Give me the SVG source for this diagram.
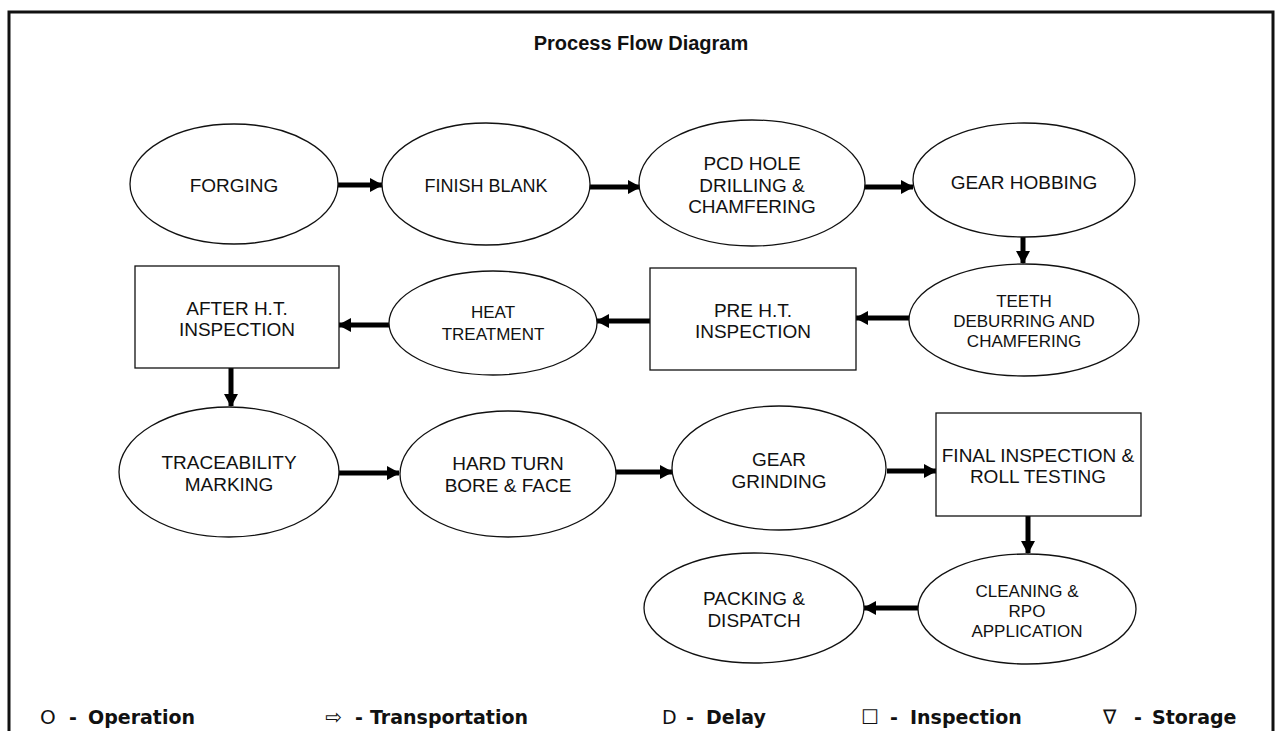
<svg xmlns="http://www.w3.org/2000/svg" width="1281" height="731" viewBox="0 0 1281 731">
<style>
.n{fill:#fff;stroke:#111;stroke-width:1.3}
.t{font-family:"Liberation Sans",Arial,sans-serif;font-size:19px;fill:#111;text-anchor:middle}
.s{font-size:17px}
.m{font-size:18px}
.ttl{font-family:"Liberation Sans",Arial,sans-serif;font-size:20px;font-weight:bold;fill:#111;text-anchor:middle}
.c{stroke:#000;stroke-width:5;fill:none;marker-end:url(#ah)}
.lg{font-family:"DejaVu Sans",sans-serif;font-size:19px;font-weight:bold;fill:#111}
.sy{font-family:"DejaVu Sans",sans-serif;font-size:20px;fill:#111}
</style>
<defs>
<marker id="ah" markerUnits="userSpaceOnUse" markerWidth="14" markerHeight="14" refX="12" refY="7" orient="auto">
<path d="M0,0 L13,7 L0,14 Z" fill="#000"/>
</marker>
</defs>
<rect width="1281" height="731" fill="#fff"/>
<path d="M9,731 V12 H1273 V731" fill="none" stroke="#111" stroke-width="3"/>
<text class="ttl" x="641" y="50">Process Flow Diagram</text>

<g id="connectors">
<line class="c" x1="338" y1="185" x2="382" y2="185"/>
<line class="c" x1="590" y1="187" x2="640" y2="187"/>
<line class="c" x1="865" y1="187" x2="913" y2="187"/>
<line class="c" x1="1023" y1="237" x2="1023" y2="263"/>
<line class="c" x1="909" y1="318" x2="856" y2="318"/>
<line class="c" x1="650" y1="321" x2="597" y2="321"/>
<line class="c" x1="389" y1="325" x2="339" y2="325"/>
<line class="c" x1="231" y1="368" x2="231" y2="406"/>
<line class="c" x1="339" y1="473" x2="399" y2="473"/>
<line class="c" x1="616" y1="472" x2="672" y2="472"/>
<line class="c" x1="887" y1="471" x2="936" y2="471"/>
<line class="c" x1="1028" y1="516" x2="1028" y2="553"/>
<line class="c" x1="918" y1="608" x2="864" y2="608"/>
</g>

<g id="forging"><ellipse class="n" cx="234" cy="184" rx="104" ry="60"/><text class="t" x="234" y="192">FORGING</text></g>
<g id="finish-blank"><ellipse class="n" cx="486" cy="184" rx="104" ry="61"/><text class="t m" x="486" y="192">FINISH BLANK</text></g>
<g id="pcd-hole"><ellipse class="n" cx="752" cy="183" rx="113" ry="63"/><text class="t" x="752" y="170">PCD HOLE</text><text class="t" x="752" y="192">DRILLING &amp;</text><text class="t" x="752" y="213">CHAMFERING</text></g>
<g id="gear-hobbing"><ellipse class="n" cx="1024" cy="180" rx="111" ry="57"/><text class="t" x="1024" y="189">GEAR HOBBING</text></g>
<g id="teeth"><ellipse class="n" cx="1024" cy="320" rx="115" ry="56"/><text class="t s" x="1024" y="307">TEETH</text><text class="t s" x="1024" y="327">DEBURRING AND</text><text class="t s" x="1024" y="347">CHAMFERING</text></g>
<g id="pre-ht"><rect class="n" x="650" y="268" width="206" height="102"/><text class="t" x="753" y="317">PRE H.T.</text><text class="t" x="753" y="338">INSPECTION</text></g>
<g id="heat-treatment"><ellipse class="n" cx="493" cy="323" rx="104" ry="52"/><text class="t s" x="493" y="318">HEAT</text><text class="t s" x="493" y="340">TREATMENT</text></g>
<g id="after-ht"><rect class="n" x="135" y="266" width="204" height="102"/><text class="t" x="237" y="315">AFTER H.T.</text><text class="t" x="237" y="336">INSPECTION</text></g>
<g id="traceability"><ellipse class="n" cx="229" cy="472" rx="110" ry="65"/><text class="t" x="229" y="469">TRACEABILITY</text><text class="t" x="229" y="491">MARKING</text></g>
<g id="hard-turn"><ellipse class="n" cx="508" cy="474" rx="108" ry="63"/><text class="t" x="508" y="470">HARD TURN</text><text class="t" x="508" y="492">BORE &amp; FACE</text></g>
<g id="gear-grinding"><ellipse class="n" cx="779" cy="468" rx="107" ry="62"/><text class="t" x="779" y="466">GEAR</text><text class="t" x="779" y="488">GRINDING</text></g>
<g id="final-inspection"><rect class="n" x="936" y="413" width="205" height="103"/><text class="t" x="1038" y="462">FINAL INSPECTION &amp;</text><text class="t" x="1038" y="483">ROLL TESTING</text></g>
<g id="cleaning"><ellipse class="n" cx="1027" cy="609" rx="109" ry="55"/><text class="t s" x="1027" y="597">CLEANING &amp;</text><text class="t s" x="1027" y="617">RPO</text><text class="t s" x="1027" y="637">APPLICATION</text></g>
<g id="packing"><ellipse class="n" cx="754" cy="608" rx="110" ry="55"/><text class="t" x="754" y="605">PACKING &amp;</text><text class="t" x="754" y="627">DISPATCH</text></g>

<g id="legend">
<text class="sy" x="40" y="724">O</text><text class="lg" x="69" y="724">-</text><text class="lg" x="88" y="724">Operation</text>
<text class="sy" x="325" y="724">⇨</text><text class="lg" x="355" y="724">-</text><text class="lg" x="370" y="724">Transportation</text>
<text class="lg" x="662" y="724" style="font-weight:normal">D</text><text class="lg" x="686" y="724">-</text><text class="lg" x="706" y="724">Delay</text>
<text class="sy" x="861" y="724">☐</text><text class="lg" x="890" y="724">-</text><text class="lg" x="910" y="724">Inspection</text>
<text class="sy" x="1103" y="724">∇</text><text class="lg" x="1134" y="724">-</text><text class="lg" x="1152" y="724">Storage</text>
</g>
</svg>
